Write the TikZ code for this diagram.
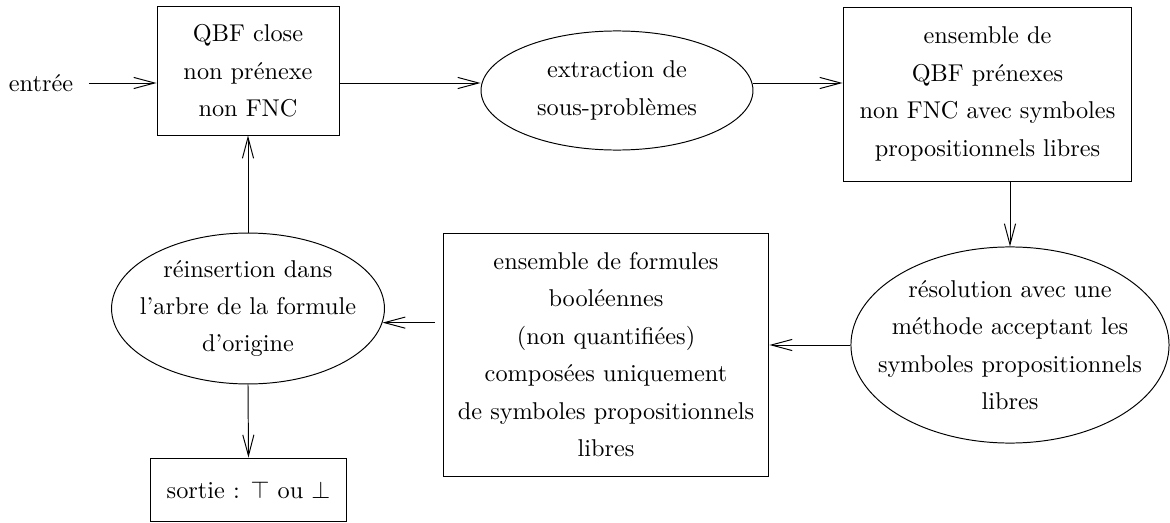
\documentclass[tikz,border=0pt]{standalone}
\usepackage{amsmath,amssymb}
\usepackage{tikz}
\usetikzlibrary{
	shapes.geometric,
	arrows.meta
}

\tikzset{
	texte/.style={align=center, font=\fontsize{10}{15.4}\selectfont},
	boite/.style={texte, draw, rectangle, inner sep=0pt},
	bulle/.style={texte, draw, ellipse, inner sep=-15pt},
	fleche/.style={-{Straight Barb[length=8.6pt,width=4.6pt]}}
}

\begin{document}
\begin{tikzpicture}[x=0.4115pt, y=-0.4115pt]
		\useasboundingbox (0,0) rectangle (1170,523);
		\draw
			node[texte]                                               (entree)   at (41,83)      {entrée}
			node[boite, minimum width=74.9pt,  minimum height=52.7pt] (qbf)      at (248,71)     {QBF close\\non prénexe\\non FNC}
			node[bulle, minimum width=111.9pt, minimum height=49pt]   (extr)     at (617,90.5)   {extraction de\\sous-problèmes}
			node[boite, minimum width=118.9pt, minimum height=71.6pt] (ens)      at (987.5,94)   {ensemble de\\QBF prénexes\\non FNC avec symboles\\propositionnels libres}
			node[bulle, minimum width=130.9pt, minimum height=80.7pt] (resol)    at (1010,345)   {résolution avec une\\méthode acceptant les\\symboles propositionnels\\libres}
			node[boite, minimum width=134.1pt, minimum height=100pt]  (formules) at (606,354.5)  {ensemble de formules\\booléennes\\(non quantifiées)\\composées uniquement\\de symboles propositionnels\\libres}
			node[bulle, minimum width=112.3pt, minimum height=62.1pt] (reins)    at (248,308.5)  {réinsertion dans\\l'arbre de la formule\\d'origine}
			node[boite, minimum width=81pt,    minimum height=26.3pt] (sortie)   at (248.5,490)  {sortie : $\top$ ou $\bot$}

			(entree.east)              edge[fleche, shorten <=3pt]   (entree -| qbf.west)
			(entree -| qbf.east)       edge[fleche]                  (entree -| extr.west)
			(entree -| extr.east)      edge[fleche]                  (entree -| ens.west)
			(resol.north |- ens.south) edge[fleche]                  (resol.north)
			(resol.west)               edge[fleche]                  (resol.west -| formules.east)
			(formules.west |- reins.-6.6) edge[fleche, shorten <=3.3pt] (reins.-6.6)
			(reins.north)              edge[fleche]                  (qbf.south)
			(reins.south)              edge[fleche]                  (sortie.north)
		;
	\end{tikzpicture}
\end{document}
